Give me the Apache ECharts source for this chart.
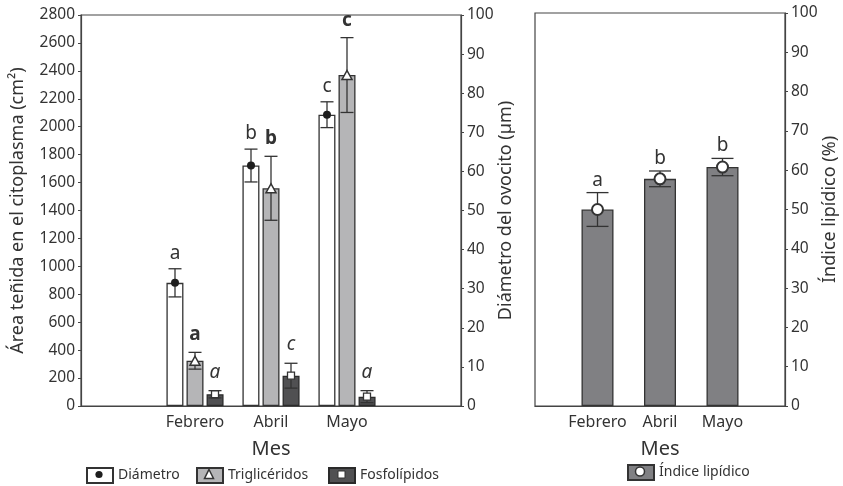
<!DOCTYPE html>
<html><head><meta charset="utf-8">
<script src="https://cdn.jsdelivr.net/npm/echarts@6/dist/echarts.min.js"></script>
<style>html,body{margin:0;padding:0;background:#fff}#c{width:843px;height:486px}</style>
</head><body><div id="c"></div><script>
// ---- data ----
const categories = ['', 'Febrero', 'Abril', 'Mayo', ''];
const months = ['Febrero', 'Abril', 'Mayo'];
const diametro = [31.5, 61.5, 74.5];
const diametroErr = [3.6, 4.2, 3.3];
const diametroLetras = ['a', 'b', 'c'];
const trigliceridos = [324, 1559, 2370];
const trigliceridosErr = [60, 229, 268];
const trigliceridosLetras = ['a', 'b', 'c'];
const fosfolipidos = [84, 217, 67];
const fosfolipidosErr = [26, 89, 43];
const fosfolipidosLetras = ['a', 'c', 'a'];
const indice = [50.0, 57.8, 60.8];
const indiceErr = [4.3, 2.0, 2.2];
const indiceLetras = ['a', 'b', 'b'];
const areaAxis = { min: 0, max: 2800, interval: 200 };
const pctAxis = { min: 0, max: 100, interval: 10 };

const FONT = "'Noto Sans', sans-serif";
const TXT = '#333';
const LINE = '#444';

function pairs(vals) { return months.map((m, i) => [m, vals[i]]); }

function errSeries(xi, yi, vals, errs, letters, offset, cap, font, gap) {
  return {
    type: 'custom', xAxisIndex: xi, yAxisIndex: yi, z: 5, silent: true,
    data: months.map((m, i) => [m, vals[i], errs[i]]),
    renderItem(params, api) {
      const idx = api.value(0), v = api.value(1), e = api.value(2);
      const x = api.coord([idx, v])[0] + offset;
      const yt = api.coord([idx, v + e])[1];
      const yb = api.coord([idx, v - e])[1];
      const st = { stroke: '#333', lineWidth: 1.3 };
      return { type: 'group', children: [
        { type: 'line', shape: { x1: x, y1: yt, x2: x, y2: yb }, style: st },
        { type: 'line', shape: { x1: x - cap / 2, y1: yt, x2: x + cap / 2, y2: yt }, style: st },
        { type: 'line', shape: { x1: x - cap / 2, y1: yb, x2: x + cap / 2, y2: yb }, style: st },
        { type: 'text', x: x, y: yt - gap, style: { text: letters[params.dataIndex], font: font, fill: TXT, align: 'center', verticalAlign: 'bottom' } }
      ]};
    }
  };
}

function yAx(grid, pos, rng, name, gap, showLabels) {
  return {
    type: 'value', gridIndex: grid, position: pos, min: rng.min, max: rng.max, interval: rng.interval,
    splitLine: { show: false },
    axisLine: { show: true, lineStyle: { color: LINE, width: 1.2 } },
    axisTick: { show: true, length: 3, lineStyle: { color: LINE } },
    axisLabel: { show: showLabels, fontSize: 15.5, color: TXT, fontFamily: FONT, margin: 6,
      formatter: v => String(v) },
    name: name, nameLocation: 'middle', nameRotate: 90, nameGap: gap, nameMoveOverlap: false,
    nameTextStyle: { fontSize: 18, color: TXT, fontFamily: FONT }
  };
}
function xAx(grid, bg) {
  return {
    type: 'category', gridIndex: grid, data: categories, boundaryGap: bg,
    axisTick: { show: false },
    axisLine: { lineStyle: { color: LINE, width: 1.2 } },
    axisLabel: { interval: 0, fontSize: 16, color: TXT, fontFamily: FONT, margin: 8 },
    name: 'Mes', nameLocation: 'middle', nameGap: 33, nameMoveOverlap: false,
    nameTextStyle: { fontSize: 20, color: TXT, fontFamily: FONT }
  };
}

const chart = echarts.init(document.getElementById('c'), null, { renderer: 'canvas' });
const option = {
  animation: false,
  textStyle: { fontFamily: FONT },
  grid: [
    { left: 81, right: 382, top: 15, bottom: 80, show: true, borderColor: LINE, borderWidth: 1.2, backgroundColor: 'transparent' },
    { left: 535, right: 58, top: 13, bottom: 80, show: true, borderColor: LINE, borderWidth: 1.2, backgroundColor: 'transparent' }
  ],
  xAxis: [xAx(0, true), xAx(1, false)],
  yAxis: [
    yAx(0, 'left', areaAxis, 'Área teñida en el citoplasma (cm²)', 54, true),
    yAx(0, 'right', pctAxis, 'Diámetro del ovocito (µm)', 36, true),
    yAx(1, 'right', pctAxis, 'Índice lipídico (%)', 36, true)
  ],
  legend: [
    { data: ['Diámetro'], left: 86, top: 467 },
    { data: ['Triglicéridos'], left: 196, top: 467 },
    { data: ['Fosfolípidos'], left: 328, top: 467 },
    { data: ['Índice lipídico'], left: 627, top: 464 }
  ].map(l => Object.assign({ padding: 0, itemWidth: 26, itemHeight: 15, itemGap: 6, selectedMode: false,
    icon: 'rect', textStyle: { fontSize: 14, color: TXT, fontFamily: FONT } }, l)),
  series: [
    { name: 'Diámetro', type: 'bar', xAxisIndex: 0, yAxisIndex: 1, barWidth: 17, barGap: '18%',
      data: pairs(diametro), itemStyle: { color: '#ffffff', borderColor: '#333', borderWidth: 1.3 } },
    { name: 'Triglicéridos', type: 'bar', xAxisIndex: 0, yAxisIndex: 0, barWidth: 17, barGap: '18%',
      data: pairs(trigliceridos), itemStyle: { color: '#b5b5b7', borderColor: '#333', borderWidth: 1.3 } },
    { name: 'Fosfolípidos', type: 'bar', xAxisIndex: 0, yAxisIndex: 0, barWidth: 17, barGap: '18%',
      data: pairs(fosfolipidos), itemStyle: { color: '#505052', borderColor: '#2a2a2a', borderWidth: 1.3 } },
    { name: 'Índice lipídico', type: 'bar', xAxisIndex: 1, yAxisIndex: 2, barWidth: 32,
      data: pairs(indice), itemStyle: { color: '#808083', borderColor: '#333', borderWidth: 1.3 } },

    errSeries(0, 1, diametro, diametroErr, diametroLetras, -20, 13, "normal 19px 'Noto Sans'", 6),
    errSeries(0, 0, trigliceridos, trigliceridosErr, trigliceridosLetras, 0, 13, "bold 19px 'Noto Sans'", 8),
    errSeries(0, 0, fosfolipidos, fosfolipidosErr, fosfolipidosLetras, 20, 13, "italic 19px 'Noto Sans'", 9),
    errSeries(1, 2, indice, indiceErr, indiceLetras, 0, 22, "normal 19px 'Noto Sans'", 3),

    { type: 'scatter', xAxisIndex: 0, yAxisIndex: 1, z: 10, silent: true, symbol: 'circle', symbolSize: 8,
      symbolOffset: [-20, 0], data: pairs(diametro), itemStyle: { color: '#1e1e1e', opacity: 1 } },
    { type: 'scatter', xAxisIndex: 0, yAxisIndex: 0, z: 10, silent: true, symbol: 'triangle', symbolSize: [10, 9],
      symbolOffset: [0, 0], data: pairs(trigliceridos), itemStyle: { color: '#ffffff', borderColor: '#333', borderWidth: 1.5, opacity: 1 } },
    { type: 'scatter', xAxisIndex: 0, yAxisIndex: 0, z: 10, silent: true, symbol: 'rect', symbolSize: 7,
      symbolOffset: [20, 0], data: pairs(fosfolipidos), itemStyle: { color: '#ffffff', borderColor: '#333', borderWidth: 1.3, opacity: 1 } },
    { type: 'scatter', xAxisIndex: 1, yAxisIndex: 2, z: 10, silent: true, symbol: 'circle', symbolSize: 11,
      data: pairs(indice), itemStyle: { color: '#ffffff', borderColor: '#333', borderWidth: 2, opacity: 1 } }
  ],
  graphic: [
    { type: 'circle', shape: { cx: 99, cy: 474.5, r: 3.6 }, style: { fill: '#1e1e1e' }, z: 100 },
    { type: 'polygon', shape: { points: [[209, 469.5], [213.5, 478.5], [204.5, 478.5]] }, style: { fill: '#fff', stroke: '#333', lineWidth: 1.5 }, z: 100 },
    { type: 'rect', shape: { x: 338, y: 471, width: 7, height: 7 }, style: { fill: '#fff', stroke: '#333', lineWidth: 1 }, z: 100 },
    { type: 'circle', shape: { cx: 640, cy: 471.5, r: 4.5 }, style: { fill: '#fff', stroke: '#333', lineWidth: 1.5 }, z: 100 }
  ]
};
chart.setOption(option);
</script></body></html>
